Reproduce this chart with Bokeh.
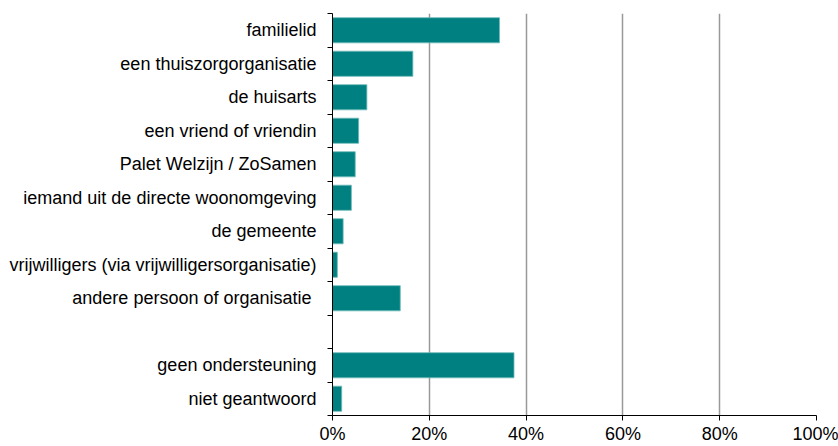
from bokeh.plotting import figure
from bokeh.models import Range1d, FixedTicker, NumeralTickFormatter, ColumnDataSource
from bokeh.embed import file_html
from bokeh.resources import INLINE

categories = [
    "familielid",
    "een thuiszorgorganisatie",
    "de huisarts",
    "een vriend of vriendin",
    "Palet Welzijn / ZoSamen",
    "iemand uit de directe woonomgeving",
    "de gemeente",
    "vrijwilligers (via vrijwilligersorganisatie)",
    "andere persoon of organisatie ",
    "",
    "geen ondersteuning",
    "niet geantwoord",
]
values = [0.345, 0.166, 0.071, 0.054, 0.047, 0.039, 0.022, 0.010, 0.140, None, 0.375, 0.019]
x_ticks = [0, 0.2, 0.4, 0.6, 0.8, 1.0]

n = len(categories)
centers = [n - 1 - i + 0.5 for i in range(n)]
bar_y = [c for c, v in zip(centers, values) if v is not None]
bar_v = [v for v in values if v is not None]
src = ColumnDataSource(dict(y=bar_y, v=bar_v))

FONT = "Liberation Sans"

p = figure(width=838, height=446, output_backend="svg", toolbar_location=None,
           x_range=Range1d(0, 1), y_range=Range1d(0, n),
           min_border_left=332, min_border_right=22, min_border_top=13, min_border_bottom=27)
p.outline_line_color = None

p.hbar(y="y", left=0, right="v", height=0.75, source=src,
       fill_color="#008080", line_color="#6fb9b9", line_width=0.8)

# x axis
xa = p.xaxis[0]
xa.ticker = FixedTicker(ticks=x_ticks)
xa.formatter = NumeralTickFormatter(format="0%")
xa.axis_line_color = "black"
xa.major_tick_line_color = "black"
xa.major_tick_out = 5
xa.major_tick_in = 0
xa.minor_tick_line_color = None
xa.major_label_text_font = FONT
xa.major_label_text_font_size = "18px"
xa.major_label_text_color = "black"
xa.major_label_standoff = 3

# y axis
ya = p.yaxis[0]
ya.ticker = FixedTicker(ticks=centers, minor_ticks=list(range(n + 1)))
ya.major_label_overrides = {c: lab for c, lab in zip(centers, categories)}
ya.axis_line_color = "black"
ya.major_tick_line_color = None
ya.major_tick_out = 5
ya.major_tick_in = 0
ya.minor_tick_line_color = "black"
ya.minor_tick_out = 5
ya.minor_tick_in = 0
ya.major_label_text_font = FONT
ya.major_label_text_font_size = "18px"
ya.major_label_text_color = "black"
ya.major_label_standoff = 11

p.xgrid.ticker = FixedTicker(ticks=x_ticks[1:])
p.xgrid.grid_line_color = "#999999"
p.xgrid.grid_line_width = 1.5
p.ygrid.grid_line_color = None

open("out.html", "w").write(file_html(p, INLINE))
